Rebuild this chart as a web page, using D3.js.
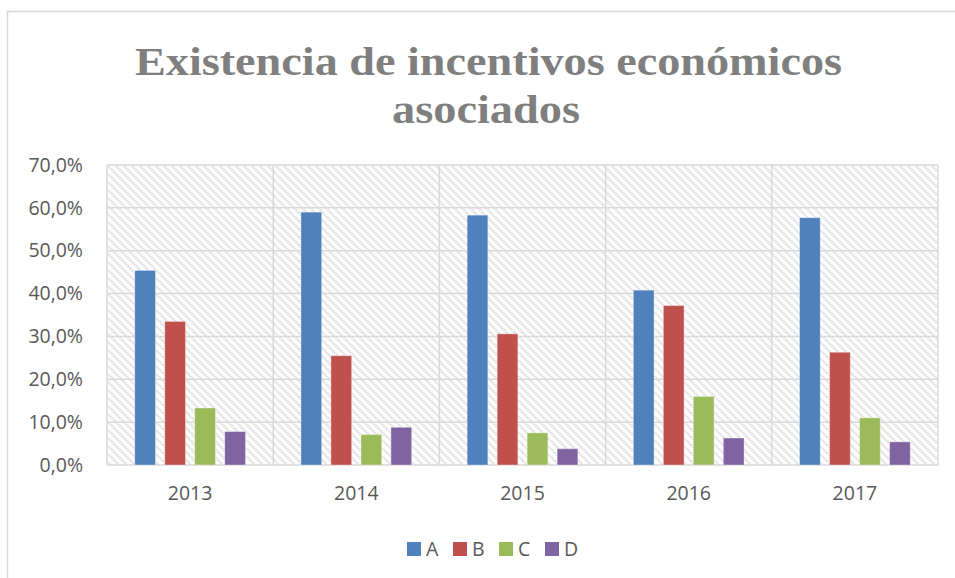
<!DOCTYPE html>
<html>
<head>
<meta charset="utf-8">
<script src="https://cdn.jsdelivr.net/npm/d3@7"></script>
<style>
  body { margin: 0; background: #fff; }
  svg { display: block; }
</style>
</head>
<body>
<div id="chart"></div>
<script>
const years = ["2013", "2014", "2015", "2016", "2017"];
const seriesNames = ["A", "B", "C", "D"];
const valuesA = [45.4, 59.0, 58.3, 40.8, 57.7];
const valuesB = [33.5, 25.5, 30.6, 37.2, 26.3];
const valuesC = [13.3, 7.1, 7.5, 16.0, 11.0];
const valuesD = [7.8, 8.8, 3.8, 6.3, 5.4];
const yTicks = [0, 10, 20, 30, 40, 50, 60, 70];
const colors = ["#4f81bd", "#c0504d", "#9bbb59", "#8064a2"];
const titleLines = ["Existencia de incentivos económicos", "asociados"];

const data = years.map((y, i) => ({
    year: y,
    A: valuesA[i], B: valuesB[i], C: valuesC[i], D: valuesD[i]
}));

const W = 955, H = 578;
const margin = { top: 165, right: 17, bottom: 113, left: 107 },
      width = W - margin.left - margin.right,
      height = H - margin.top - margin.bottom;

const svg = d3.select("#chart")
    .append("svg")
    .attr("width", W)
    .attr("height", H);

// hatch pattern for the plot area
const defs = svg.append("defs");
const pat = defs.append("pattern")
    .attr("id", "hatch")
    .attr("patternUnits", "userSpaceOnUse")
    .attr("width", 8)
    .attr("height", 8);
pat.append("rect").attr("width", 8).attr("height", 8).attr("fill", "#fff");
pat.append("path")
    .attr("d", "M-2,-2 L10,10 M-2,6 L2,10 M6,-2 L10,2")
    .attr("stroke", "#dcdcdc")
    .attr("stroke-width", 2.6)
    .attr("stroke-dasharray", "1.4,1");

// outer chart border
svg.append("path")
    .attr("d", `M7.5,${H + 2} V11.5 H${W + 2}`)
    .attr("fill", "none")
    .attr("stroke", "#d9d9d9")
    .attr("stroke-width", 1.5);

// title
const title = svg.append("g")
    .attr("font-family", "'Liberation Serif', 'DejaVu Serif', serif")
    .attr("font-weight", "bold")
    .attr("font-size", 41)
    .attr("fill", "#7f7f7f")
    .attr("text-anchor", "middle");
title.append("text")
    .attr("x", 488.5).attr("y", 75)
    .attr("textLength", 707)
    .attr("lengthAdjust", "spacingAndGlyphs")
    .text(titleLines[0]);
title.append("text")
    .attr("x", 486).attr("y", 123)
    .attr("textLength", 188)
    .attr("lengthAdjust", "spacingAndGlyphs")
    .text(titleLines[1]);

const g = svg.append("g")
    .attr("transform", `translate(${margin.left},${margin.top})`);

const x0 = d3.scaleBand()
    .domain(years)
    .range([0, width])
    .padding(0);

const x1 = d3.scaleBand()
    .domain(seriesNames)
    .range([0, x0.bandwidth()])
    .paddingInner(0.31)
    .paddingOuter(0.925);

const y = d3.scaleLinear()
    .domain([0, 70])
    .range([height, 0]);

const color = d3.scaleOrdinal()
    .domain(seriesNames)
    .range(colors);

const locale = d3.formatLocale({ decimal: ",", thousands: ".", grouping: [3], currency: ["", "€"] });
const fmt = v => locale.format(".1f")(v) + "%";

g.append("rect")
    .attr("width", width)
    .attr("height", height)
    .attr("fill", "url(#hatch)");

// horizontal gridlines
g.append("g")
    .selectAll("line")
    .data(yTicks)
    .enter().append("line")
    .attr("x1", 0).attr("x2", width)
    .attr("y1", d => y(d)).attr("y2", d => y(d))
    .attr("stroke", "#d9d9d9")
    .attr("stroke-width", 1.5);

// vertical category dividers
g.append("g")
    .selectAll("line")
    .data(years.map(d => x0(d)).concat([width]))
    .enter().append("line")
    .attr("x1", d => d).attr("x2", d => d)
    .attr("y1", 0).attr("y2", height)
    .attr("stroke", "#d9d9d9")
    .attr("stroke-width", 1.5);

// bars
g.append("g")
    .selectAll("g")
    .data(data)
    .enter().append("g")
    .attr("transform", d => `translate(${x0(d.year)},0)`)
    .selectAll("rect")
    .data(d => seriesNames.map(k => ({ key: k, value: d[k] })))
    .enter().append("rect")
    .attr("x", d => x1(d.key))
    .attr("y", d => y(d.value))
    .attr("width", x1.bandwidth())
    .attr("height", d => y(0) - y(d.value))
    .attr("fill", d => color(d.key))
    .attr("stroke", "#ffffff")
    .attr("stroke-opacity", 0.35)
    .attr("stroke-width", 1);

const tickFont = "'Open Sans', 'Liberation Sans', sans-serif";

// y axis labels
const yAxis = g.append("g")
    .call(d3.axisLeft(y).tickValues(yTicks).tickFormat(fmt).tickSize(0).tickPadding(24));
yAxis.select(".domain").remove();
yAxis.selectAll("text")
    .attr("font-family", tickFont)
    .attr("font-size", 19.5)
    .attr("fill", "#595959");

// x axis labels
const xAxis = g.append("g")
    .attr("transform", `translate(0,${height})`)
    .call(d3.axisBottom(x0).tickSize(0).tickPadding(21));
xAxis.select(".domain").remove();
xAxis.selectAll("text")
    .attr("font-family", tickFont)
    .attr("font-size", 19.5)
    .attr("fill", "#595959");

// legend
const legend = svg.append("g")
    .attr("transform", "translate(407,542)");
const item = legend.selectAll("g")
    .data(seriesNames)
    .enter().append("g")
    .attr("transform", (d, i) => `translate(${i * 46},0)`);
item.append("rect")
    .attr("width", 14).attr("height", 14)
    .attr("fill", d => color(d));
item.append("text")
    .attr("x", 19).attr("y", 14)
    .attr("font-family", tickFont)
    .attr("font-size", 19.5)
    .attr("fill", "#595959")
    .text(d => d);
</script>
</body>
</html>
